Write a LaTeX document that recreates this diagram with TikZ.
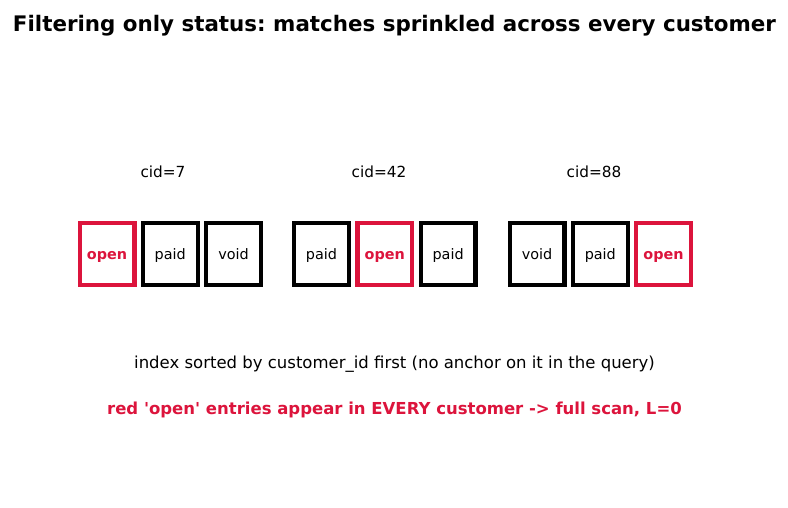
\documentclass[tikz,border=0pt]{standalone}
\usepackage{fontspec}
\setmainfont{DejaVu Sans}
\usepackage{tikz}
\usetikzlibrary{positioning}
\definecolor{crimson}{RGB}{220,20,60}
\frenchspacing

\begin{document}
\begin{tikzpicture}[
  x=1pt, y=-1pt,
  entry/.style={draw=black, line width=4.3pt, minimum width=54.7pt, minimum height=62pt,
                inner sep=0pt, text height=12pt, text depth=1pt,
                font=\fontsize{14.4}{16}\selectfont},
  hit/.style={entry, draw=crimson, text=crimson, font=\fontsize{14.4}{16}\selectfont\bfseries},
  cidlabel/.style={font=\fontsize{15.3}{18}\selectfont},
  node distance=4.3pt
]
  \useasboundingbox (0,0) rectangle (788,508);

  \node[font=\fontsize{21.4}{25}\selectfont\bfseries] (title) at (394.5,25.5)
    {Filtering only status: matches sprinkled across every customer};

  % customer 7
  \node[hit] (c7a) at (107,254) {open};
  \node[entry, right=of c7a] (c7b) {paid};
  \node[entry, right=of c7b] (c7c) {void};
  \node[cidlabel] (cid7) at (163,172) {cid=7};

  % customer 42
  \node[entry] (c42a) at (321.5,254) {paid};
  \node[hit, right=of c42a] (c42b) {open};
  \node[entry, right=of c42b] (c42c) {paid};
  \node[cidlabel] (cid42) at (379,172) {cid=42};

  % customer 88
  \node[entry] (c88a) at (537,254) {void};
  \node[entry, right=of c88a] (c88b) {paid};
  \node[hit, right=of c88b] (c88c) {open};
  \node[cidlabel] (cid88) at (594,172) {cid=88};

  \node[font=\fontsize{16.5}{20}\selectfont] (note) at (394.5,364.5)
    {index sorted by customer\_id first (no anchor on it in the query)};
  \node[font=\fontsize{16.5}{20}\selectfont\bfseries, text=crimson] (verdict) at (394.5,409.5)
    {red \textquotesingle open\textquotesingle\ entries appear in EVERY customer -> full scan, L=0};
\end{tikzpicture}
\end{document}
